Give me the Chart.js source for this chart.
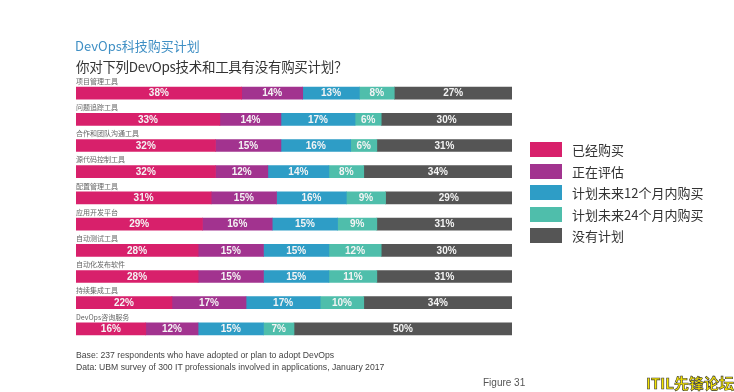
<!DOCTYPE html>
<html>
<head>
<meta charset="utf-8">
<script src="https://cdn.jsdelivr.net/npm/chart.js@4.4.0/dist/chart.umd.min.js"></script>
<style>
    body { margin: 0; background: #fff; font-family: "Noto Sans CJK SC", "Liberation Sans", sans-serif; }
    #wrap { position: relative; width: 734px; height: 392px; overflow: hidden; }
    #chart { position: absolute; left: 0; top: 0; }
    .title { position: absolute; left: 75px; top: 36px; font-size: 13px; color: #3f8fc4; white-space: nowrap; }
    .subtitle { position: absolute; left: 76px; top: 56px; font-size: 13.5px; color: #333; white-space: nowrap; letter-spacing: -0.3px; }
    .legend { position: absolute; left: 530px; top: 142px; }
    .legendItem { position: relative; height: 21.5px; }
    .legendItem span.box { position: absolute; left: 0; top: 0; width: 32px; height: 15px; }
    .legendItem span.lbl { position: absolute; left: 42px; top: -2px; font-size: 13px; color: #333; white-space: nowrap; }
    .footer { position: absolute; left: 76px; top: 349px; font-family: "Liberation Sans Narrow", "Liberation Sans", sans-serif; font-size: 9.5px; color: #444; line-height: 12px; white-space: nowrap; transform: scaleX(0.91); transform-origin: left top; }
    .figure { position: absolute; left: 483px; top: 377px; font-family: "Liberation Sans", sans-serif; font-size: 10px; color: #555; }
    .mark { position: absolute; left: 646px; top: 372px; font-size: 15px; font-weight: bold; color: #f5e400; -webkit-text-stroke: 0.6px #333; white-space: nowrap; }
</style>
</head>
<body>
<div id="wrap">
    <canvas id="chart" width="734" height="392"></canvas>
    <div class="title">DevOps科技购买计划</div>
    <div class="subtitle">你对下列DevOps技术和工具有没有购买计划？</div>
    <div class="legend" id="legend"></div>
    <div class="footer">Base: 237 respondents who have adopted or plan to adopt DevOps<br>Data: UBM survey of 300 IT professionals involved in applications, January 2017</div>
    <div class="figure">Figure 31</div>
    <div class="mark">ITIL先锋论坛</div>
</div>
<script>
const categories = ['项目管理工具', '问题追踪工具', '合作和团队沟通工具', '源代码控制工具', '配置管理工具',
    '应用开发平台', '自动测试工具', '自动化发布软件', '持续集成工具', 'DevOps咨询服务'];

const seriesNames = ['已经购买', '正在评估', '计划未来12个月内购买', '计划未来24个月内购买', '没有计划'];
const seriesColors = ['#d8206b', '#a2338f', '#2e9dc6', '#4fbeab', '#555555'];

const alreadyBought = [38, 33, 32, 32, 31, 29, 28, 28, 22, 16];
const evaluating    = [14, 14, 15, 12, 15, 16, 15, 15, 17, 12];
const within12      = [13, 17, 16, 14, 16, 15, 15, 15, 17, 15];
const within24      = [8, 6, 6, 8, 9, 9, 12, 11, 10, 7];
const noPlan        = [27, 30, 31, 34, 29, 31, 30, 31, 34, 50];

const seriesValues = [alreadyBought, evaluating, within12, within24, noPlan];

// legend on the right
const legendBox = document.getElementById('legend');
seriesNames.forEach((name, i) => {
    const item = document.createElement('div');
    item.className = 'legendItem';
    item.innerHTML = '<span class="box" style="background:' + seriesColors[i] + '"></span><span class="lbl">' + name + '</span>';
    legendBox.appendChild(item);
});

// category names above bars and percentages inside segments
const labelPlugin = {
    id: 'labelPlugin',
    afterDatasetsDraw(c) {
        const ctx = c.ctx;
        ctx.save();
        ctx.textBaseline = 'middle';

        const first = c.getDatasetMeta(0);
        ctx.font = '7px "Noto Sans CJK SC", sans-serif';
        ctx.fillStyle = '#666';
        ctx.textAlign = 'left';
        first.data.forEach((bar, i) => {
            ctx.fillText(categories[i], c.chartArea.left, bar.y - 12);
        });

        ctx.font = 'bold 10px "Liberation Sans", sans-serif';
        ctx.fillStyle = '#f4f4f4';
        ctx.textAlign = 'center';
        c.data.datasets.forEach((ds, d) => {
            c.getDatasetMeta(d).data.forEach((bar, i) => {
                ctx.fillText(ds.data[i] + '%', (bar.base + bar.x) / 2, bar.y + 0.5);
            });
        });
        ctx.restore();
    }
};

new Chart(document.getElementById('chart'), {
    type: 'bar',
    data: {
        labels: categories,
        datasets: seriesNames.map((name, i) => ({
            label: name,
            data: seriesValues[i],
            backgroundColor: seriesColors[i],
            borderWidth: 0,
            barThickness: 12
        }))
    },
    options: {
        indexAxis: 'y',
        responsive: false,
        animation: false,
        layout: { padding: { left: 76, right: 222, top: 80, bottom: 50 } },
        scales: {
            x: { stacked: true, min: 0, max: 100, display: false },
            y: { stacked: true, display: false }
        },
        plugins: {
            legend: { display: false },
            tooltip: { enabled: false }
        }
    },
    plugins: [labelPlugin]
});
</script>
</body>
</html>
